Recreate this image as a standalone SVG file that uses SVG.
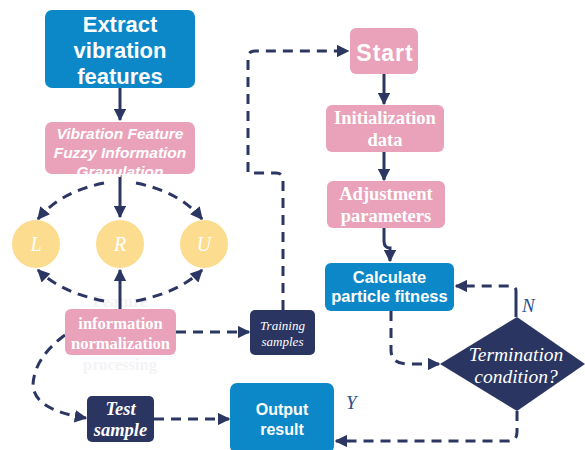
<svg xmlns="http://www.w3.org/2000/svg" width="585" height="450" viewBox="0 0 585 450">
<style>
.blue{fill:#0c88c9}
.pink{fill:#e9a2ba}
.navy{fill:#2a3562}
.yel{fill:#fcdc8e}
.sans{font-family:"Liberation Sans",Arial,sans-serif;font-weight:bold;fill:#fff;text-anchor:middle}
.serif{font-family:"Liberation Serif","Times New Roman",serif;fill:#fff;text-anchor:middle}
.ghost{fill:#f3f3f6}
.ln{fill:none;stroke:#2b3663;stroke-width:3}
.ds{stroke-dasharray:10 7}
.lbl{font-family:"Liberation Serif","Times New Roman",serif;font-style:italic;fill:#2d4f8e;font-size:19px}
</style>
<defs>
<marker id="ah" viewBox="0 0 10 10" refX="9" refY="5" markerWidth="4.2" markerHeight="4.2" orient="auto" markerUnits="strokeWidth">
<path d="M0,0L10,5L0,10z" fill="#2b3663"/>
</marker>
</defs>
<g id="ghost-text">
<text class="serif ghost" font-weight="bold" font-size="16.5" x="120" y="307">Feature</text>
<text class="serif ghost" font-weight="bold" font-size="16.5" x="120" y="370">processing</text>
</g>
<g id="connectors">
<path class="ln" d="M120,88V120" marker-end="url(#ah)"/>
<path class="ln ds" d="M104,183Q60,192 38,219" marker-end="url(#ah)"/>
<path class="ln" d="M120,175V217" marker-end="url(#ah)"/>
<path class="ln ds" d="M136,183Q180,192 202,219" marker-end="url(#ah)"/>
<path class="ln ds" d="M104,301Q60,292 38,270" marker-end="url(#ah)"/>
<path class="ln" d="M120,309V270" marker-end="url(#ah)"/>
<path class="ln ds" d="M136,301Q180,292 202,270" marker-end="url(#ah)"/>
<path class="ln ds" d="M176,332H249" marker-end="url(#ah)"/>
<path class="ln ds" d="M283,310V180Q283,173 276,173H248V58Q248,51 255,51H348" marker-end="url(#ah)"/>
<path class="ln ds" d="M65,335Q34,358 33,385Q34,410 86,418" marker-end="url(#ah)"/>
<path class="ln ds" d="M154,419H229" marker-end="url(#ah)"/>
<path class="ln" d="M384,74V104" marker-end="url(#ah)"/>
<path class="ln" d="M384,152V180" marker-end="url(#ah)"/>
<path class="ln" d="M384,228V241Q384,248 390,248V261" marker-end="url(#ah)"/>
<path class="ln ds" d="M391,311V350Q391,364 408,364H439" marker-end="url(#ah)"/>
<path class="ln" d="M516,317V298"/>
<path class="ln ds" d="M516,298V291Q516,286 510,286H456" marker-end="url(#ah)"/>
<path class="ln ds" d="M517,411V432Q517,441 508,441H336" marker-end="url(#ah)"/>
</g>
<g id="extract">
<rect class="blue" x="45" y="10" width="150" height="78" rx="7"/>
<text class="sans" font-size="22" x="120" y="32">Extract</text>
<text class="sans" font-size="22" x="120" y="58">vibration</text>
<text class="sans" font-size="22" x="120" y="84">features</text>
</g>
<g id="granulation">
<rect class="pink" x="45" y="122" width="150" height="52" rx="7"/>
<text class="sans" font-size="15.5" font-style="italic" x="120" y="139">Vibration Feature</text>
<text class="sans" font-size="15.5" font-style="italic" x="120" y="158">Fuzzy Information</text>
<text class="sans" font-size="15.5" font-style="italic" x="120" y="177">Granulation</text>
</g>
<g id="L"><circle class="yel" cx="36" cy="244" r="24"/><text class="serif" font-style="italic" font-size="20" x="36" y="251">L</text></g>
<g id="R"><circle class="yel" cx="120" cy="244" r="24"/><text class="serif" font-style="italic" font-size="20" x="120" y="251">R</text></g>
<g id="U"><circle class="yel" cx="204" cy="244" r="24"/><text class="serif" font-style="italic" font-size="20" x="204" y="251">U</text></g>
<g id="normalization">
<rect class="pink" x="65" y="309" width="111" height="46" rx="6"/>
<text class="serif" font-weight="bold" font-size="16.5" x="120.5" y="329">information</text>
<text class="serif" font-weight="bold" font-size="16.5" x="120.5" y="349">normalization</text>
</g>
<g id="training">
<rect class="navy" x="250" y="310" width="65" height="45" rx="5"/>
<text class="serif" font-style="italic" font-size="13" x="282.5" y="330">Training</text>
<text class="serif" font-style="italic" font-size="13" x="282.5" y="346">samples</text>
</g>
<g id="test">
<rect class="navy" x="87" y="396" width="67" height="46" rx="5"/>
<text class="serif" font-style="italic" font-weight="bold" font-size="18.5" x="120.5" y="415">Test</text>
<text class="serif" font-style="italic" font-weight="bold" font-size="18.5" x="120.5" y="436">sample</text>
</g>
<g id="output">
<rect class="blue" x="230" y="383" width="104" height="70" rx="7"/>
<text class="sans" font-size="16" x="282" y="415">Output</text>
<text class="sans" font-size="16" x="282" y="435">result</text>
</g>
<g id="start">
<rect class="pink" x="350" y="28" width="68" height="46" rx="6"/>
<text class="sans" font-size="23" letter-spacing="1" x="385" y="61">Start</text>
</g>
<g id="init">
<rect class="pink" x="326" y="105" width="118" height="47" rx="6"/>
<text class="serif" font-weight="bold" font-size="18.5" x="385" y="124">Initialization</text>
<text class="serif" font-weight="bold" font-size="18.5" x="385" y="146">data</text>
</g>
<g id="adjust">
<rect class="pink" x="327" y="181" width="118" height="47" rx="6"/>
<text class="serif" font-weight="bold" font-size="18.5" x="386" y="200">Adjustment</text>
<text class="serif" font-weight="bold" font-size="18.5" x="386" y="222">parameters</text>
</g>
<g id="calculate">
<rect class="blue" x="325" y="263" width="129" height="48" rx="6"/>
<text class="sans" font-size="16.5" x="389.5" y="283">Calculate</text>
<text class="sans" font-size="16.5" x="389.5" y="302">particle fitness</text>
</g>
<g id="termination">
<path class="navy" d="M517,317L585,364L517,411L440,364Z"/>
<text class="serif" font-style="italic" font-size="19.5" x="516" y="361">Termination</text>
<text class="serif" font-style="italic" font-size="19.5" x="516" y="383">condition?</text>
</g>
<g id="labels">
<text class="lbl" x="522" y="312">N</text>
<text class="lbl" x="346" y="409">Y</text>
</g>
</svg>
